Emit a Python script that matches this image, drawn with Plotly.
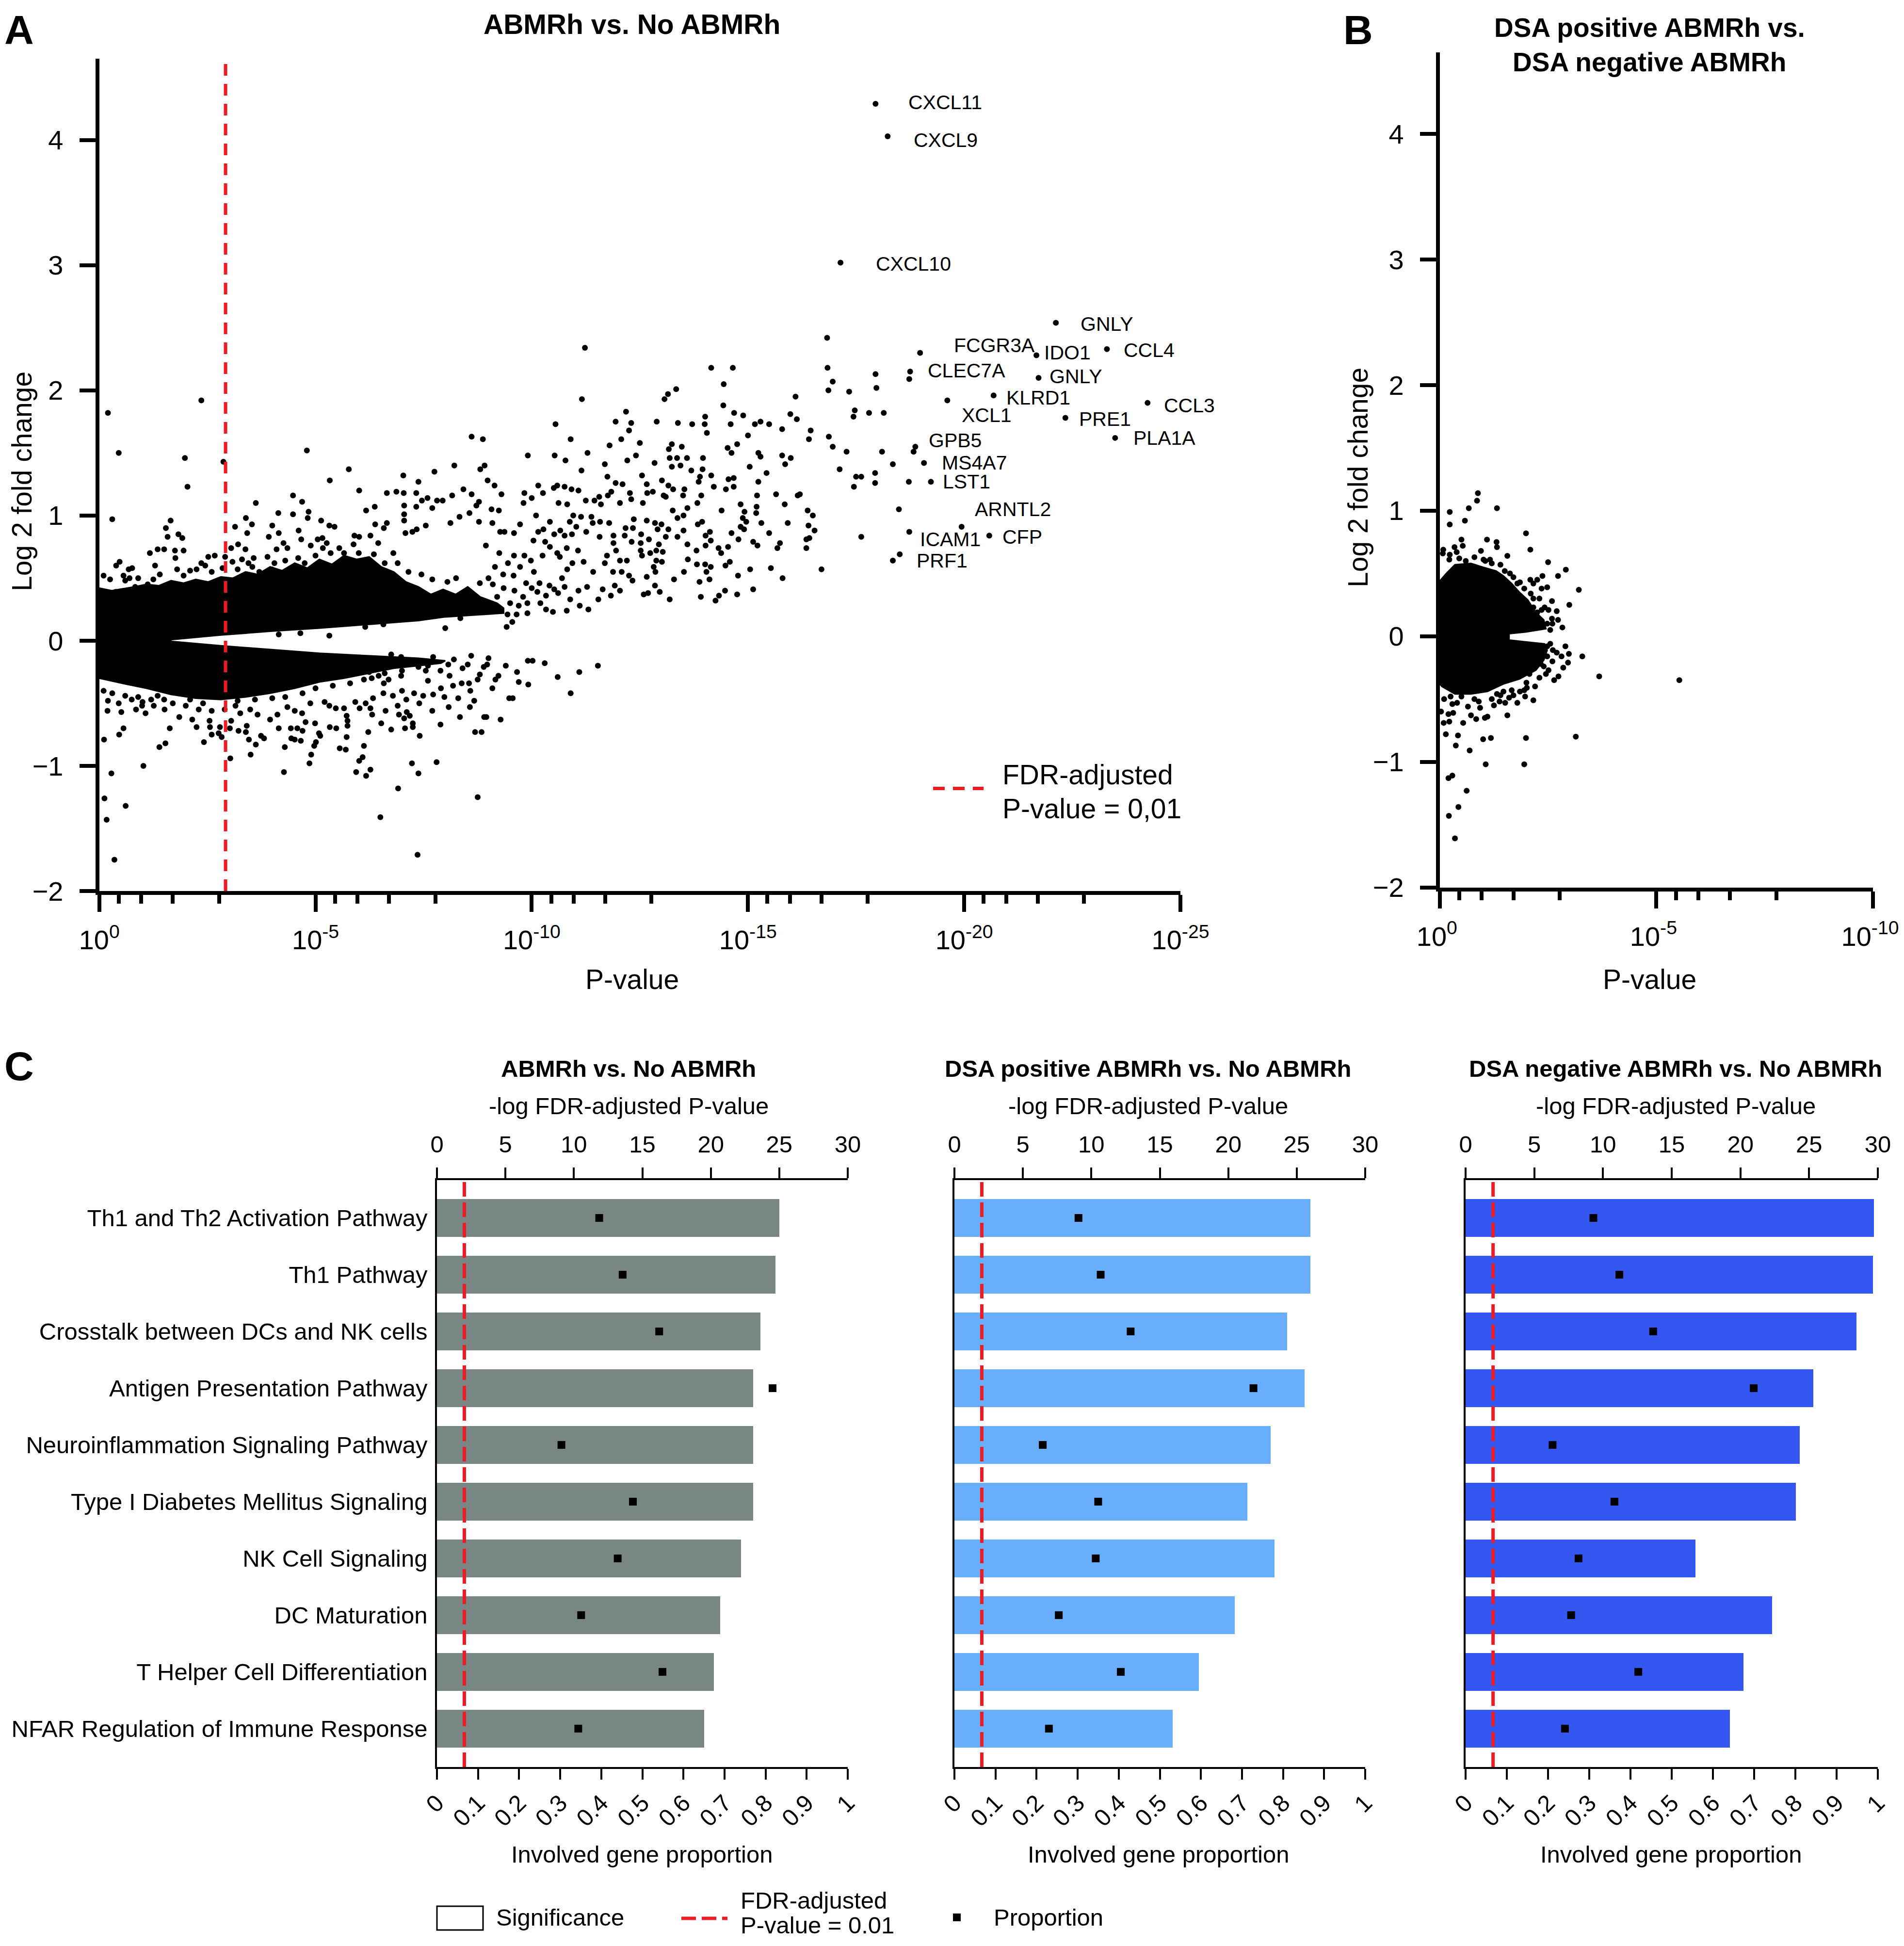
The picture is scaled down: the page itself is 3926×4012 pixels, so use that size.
import plotly.graph_objects as go

# ======================= DATA =======================
# ---- Panel A: ABMRh vs. No ABMRh  (x = -log10 P, y = log2 fold change)
# outline of the densely packed (solid black) part of the cloud
A_core_x = [0, 0.29, 0.80, 1.09, 1.38, 1.66, 1.95, 2.23, 2.52, 2.81, 3.09, 3.38, 3.66, 3.95, 4.23, 4.52, 4.81,
            5.09, 5.38, 5.66, 5.95, 6.24, 6.52, 6.81, 7.09, 7.38, 7.67, 7.95, 8.24, 8.52, 8.81, 9.20, 9.35,
            9.35, 8.9, 8.0, 7.38, 6.24, 5.09, 3.95, 2.81, 1.66,
            1.66, 2.81, 3.95, 5.09, 6.24, 7.38, 8.0,
            7.9, 7.38, 6.81, 6.24, 5.66, 5.09, 4.52, 3.95, 3.38, 2.81, 2.23, 1.66, 1.09, 0.52, 0]
A_core_y = [0.42, 0.40, 0.43, 0.45, 0.44, 0.48, 0.46, 0.49, 0.47, 0.51, 0.50, 0.55, 0.53, 0.59, 0.56, 0.62, 0.58,
            0.65, 0.61, 0.68, 0.65, 0.67, 0.59, 0.55, 0.47, 0.43, 0.37, 0.41, 0.37, 0.43, 0.35, 0.30, 0.26,
            0.22, 0.21, 0.19, 0.16, 0.13, 0.10, 0.075, 0.045, 0.008,
            -0.005, -0.04, -0.07, -0.10, -0.12, -0.14, -0.16,
            -0.18, -0.20, -0.22, -0.26, -0.30, -0.33, -0.38, -0.42, -0.45, -0.47, -0.46, -0.43, -0.38, -0.34, -0.30]

A_points = [
    (0.20,1.82),(0.45,1.50),(0.30,0.97),(2.36,1.92),(1.98,1.46),(2.04,1.23),(2.87,1.43),(4.80,1.52),(5.77,1.37),
    (5.33,1.28),(6.01,1.20),(7.03,1.32),(7.38,1.27),(7.75,1.35),(8.21,1.40),(8.61,1.63),(8.87,1.61),(8.81,1.37),
    (8.42,1.21),(8.61,1.17),(8.78,1.11),(8.72,1.08),(8.56,1.02),(8.78,0.95),(8.33,0.99),(8.12,0.94),(8.16,1.16),
    (7.94,1.12),(7.81,1.12),(7.59,1.14),(7.70,1.06),(7.46,1.12),(7.33,1.18),(7.33,1.07),(7.04,1.18),(6.87,1.19),
    (6.65,1.18),(7.05,1.08),(7.05,1.01),(7.05,0.96),(7.08,0.86),(6.65,0.94),(6.58,0.90),(6.38,0.93),(6.37,1.07),
    (6.17,1.04),(7.55,0.92),(7.34,0.89),(7.24,0.87),(4.48,1.16),(4.69,1.11),(4.84,1.03),(4.82,0.98),(4.48,1.01),
    (4.14,1.02),(5.13,0.96),(3.62,1.10),(3.39,0.98),(3.53,0.93),(3.14,0.91),(4.00,0.92),(4.15,0.86),(4.61,0.88),
    (3.92,0.83),(3.42,0.86),(5.32,0.92),(5.44,0.91),(5.90,0.84),(6.01,0.83),(6.27,0.84),(6.45,0.78),(5.88,0.77),
    (5.66,0.70),(5.16,0.82),(5.05,0.81),(4.67,0.81),(5.26,0.78),(5.17,0.74),(4.89,0.76),(4.35,0.74),(4.26,0.78),
    (4.10,0.73),(3.89,0.67),(3.57,0.66),(3.38,0.73),(3.21,0.77),(3.05,0.74),(3.30,0.65),(2.91,0.67),(2.67,0.68),
    (2.52,0.67),(2.36,0.62),(2.25,0.57),(1.95,0.72),(1.75,0.72),(1.83,0.85),(1.92,0.82),(1.65,0.96),(1.54,0.90),
    (1.58,0.83),(1.50,0.73),(1.35,0.73),(1.17,0.70),(1.76,0.66),(1.29,0.60),(0.47,0.63),(0.39,0.60),(0.68,0.57),
    (0.76,0.58),(0.56,0.52),(0.90,0.50),(0.70,0.50),(0.16,0.37),(0.38,0.39),(0.83,0.43),(1.12,0.45),(1.25,0.49),
    (3.70,0.55),(3.54,0.59),(3.99,0.57),(3.08,0.63),(8.00,0.10),(8.67,0.26),(8.35,0.18),(7.85,0.30),(7.56,0.25),
    (7.07,0.25),(6.57,0.23),(6.11,0.21),(5.89,0.22),(5.32,0.04),(4.65,0.06),(4.15,0.05),(6.57,0.13),(6.15,0.11),
    (6.73,0.17),
    (0.10,0.52),(0.25,0.49),(0.60,0.48),(1.40,0.53),(1.95,0.52),(2.10,0.56),(2.60,0.55),(2.85,0.58),(3.20,0.57),
    (3.45,0.62),(4.30,0.64),(4.60,0.66),(4.75,0.62),(5.00,0.68),(5.35,0.70),(5.55,0.74),(6.00,0.70),(6.35,0.69),
    (6.60,0.62),(6.90,0.62),(7.15,0.55),(7.45,0.53),(7.70,0.49),(8.05,0.47),(8.25,0.50),(8.80,0.46),(6.80,0.70),
    (4.05,0.62),(2.45,0.60),(1.80,0.57),
    (11.23,2.34),(16.83,2.42),(16.84,2.18),(16.96,2.07),(16.86,2.00),(17.34,1.99),(14.15,2.18),(14.65,2.18),
    (14.44,2.05),(13.34,2.01),(13.15,1.97),(13.07,1.93),(11.16,1.93),(16.10,1.95),(14.43,1.88),(12.18,1.83),
    (14.68,1.82),(14.89,1.80),(15.98,1.81),(16.13,1.77),(17.47,1.84),(17.44,1.79),(17.80,1.82),(10.55,1.73),
    (11.94,1.75),(12.30,1.74),(12.25,1.68),(12.89,1.75),(13.38,1.74),(13.71,1.73),(14.01,1.79),(14.00,1.73),
    (14.05,1.66),(14.60,1.73),(15.16,1.73),(15.29,1.75),(15.49,1.73),(15.79,1.69),(15.00,1.64),(16.45,1.68),
    (16.41,1.61),(16.87,1.63),(16.96,1.55),(17.28,1.51),(17.12,1.37),(17.50,1.31),(17.62,1.31),(17.45,1.23),
    (17.62,0.83),(16.70,0.57),(10.90,1.61),(9.91,1.48),(10.53,1.48),(10.78,1.44),(8.91,1.40),(11.29,1.50),
    (11.80,1.56),(12.07,1.61),(12.50,1.58),(12.21,1.44),(12.41,1.48),(11.69,1.41),(11.15,1.36),(12.84,1.42),
    (13.17,1.53),(13.24,1.57),(13.47,1.55),(13.19,1.46),(13.36,1.46),(13.59,1.46),(13.96,1.46),(13.24,1.39),
    (13.44,1.40),(13.69,1.36),(13.95,1.37),(13.89,1.31),(13.86,1.27),(14.15,1.32),(14.53,1.54),(14.62,1.50),
    (14.75,1.57),(15.24,1.50),(15.29,1.47),(15.04,1.39),(15.43,1.34),(15.79,1.48),(15.86,1.41),(15.99,1.46),
    (14.55,1.29),(14.67,1.30),(14.67,1.23),(14.49,1.21),(14.21,1.23),(15.24,1.27),(15.21,1.16),(15.65,1.17),
    (16.15,1.16),(15.85,1.09),(15.20,1.07),(15.19,1.02),(14.83,1.09),(14.92,1.03),(14.88,0.98),(14.96,0.95),
    (14.83,0.91),(14.91,0.89),(15.31,0.94),(15.49,0.86),(15.92,0.94),(16.38,1.04),(16.50,1.00),(16.40,0.92),
    (16.54,0.88),(16.35,0.81),(16.35,0.74),(15.74,0.78),(15.68,0.74),(15.12,0.79),(15.22,0.76),(14.78,0.81),
    (14.62,0.86),(14.39,1.04),(15.05,0.57),(14.77,0.52),(15.53,0.58),(15.80,0.50),(15.12,0.41),(14.75,0.37),
    (14.47,0.40),(14.33,0.36),(14.25,0.32),(13.91,0.35),(14.11,0.49),(13.88,0.47),(14.04,0.55),(14.14,0.59),
    (14.01,0.61),(13.82,0.61),(14.48,0.60),(14.58,0.63),(14.32,0.74),(14.54,0.75),(14.38,0.70),(13.84,0.93),
    (13.94,0.95),(14.12,0.87),(14.02,0.84),(14.14,0.80),(14.02,0.76),(13.81,0.72),(13.60,0.77),(13.61,0.65),
    (13.52,0.55),(13.29,0.49),(13.19,0.33),(12.96,0.39),(12.69,0.38),(12.59,0.37),(12.85,0.44),(12.66,0.51),
    (12.86,0.55),(12.82,0.59),(12.88,0.64),(13.01,0.63),(13.03,0.71),(12.88,0.72),(12.94,0.77),(12.74,0.70),
    (12.55,0.68),(12.52,0.72),(12.52,0.78),(12.31,0.79),(12.53,0.85),(12.71,0.81),(12.91,0.89),(13.10,0.83),
    (13.16,0.89),(13.37,0.83),(13.51,0.88),(13.26,1.04),(13.37,0.98),(13.51,1.00),(13.60,1.06),(13.10,1.15),
    (13.16,1.24),(13.01,1.28),(13.05,1.16),(13.50,1.16),(13.53,1.21),(13.27,1.21),(13.83,1.10),(13.92,1.16),
    (12.67,1.18),(12.80,1.19),(12.66,1.25),(12.55,1.32),(12.57,1.10),(12.66,0.96),(12.85,0.94),(13.00,0.93),
    (12.30,1.13),(12.27,1.18),(12.04,1.10),(12.10,1.25),(11.94,1.26),(11.84,1.19),(11.76,1.16),(11.75,1.31),
    (12.36,0.97),(12.17,0.90),(12.34,0.90),(12.15,0.84),(11.89,0.84),(11.79,0.94),(11.89,0.78),(11.95,0.72),
    (11.74,0.68),(11.57,0.83),(11.41,0.94),(11.58,0.95),(11.26,0.87),(11.14,0.99),(11.38,0.99),(10.96,1.00),
    (10.88,0.95),(11.03,0.91),(11.25,1.12),(11.45,1.12),(11.56,1.15),(11.60,1.09),(11.08,1.20),(10.92,1.21),
    (10.76,1.23),(10.59,1.24),(10.51,1.22),(10.26,1.18),(10.15,1.24),(10.00,1.14),(9.83,1.18),(9.81,1.10),
    (9.30,1.17),(9.14,1.24),(8.98,1.28),(9.07,1.05),(9.24,1.04),(9.09,0.94),(9.27,0.87),(9.37,0.87),(9.59,0.86),
    (9.73,0.93),(10.10,1.00),(10.62,1.10),(10.82,1.09),(10.42,0.95),(10.15,0.87),(10.27,0.89),(10.04,0.80),
    (10.31,0.79),(10.42,0.75),(10.52,0.85),(10.66,0.88),(10.76,0.84),(10.59,0.70),(10.81,0.74),(10.93,0.85),
    (11.07,0.72),(11.20,0.63),(10.94,0.62),(10.82,0.57),(11.42,0.55),(11.69,0.62),(11.88,0.55),(12.08,0.55),
    (12.04,0.64),(12.20,0.64),(12.25,0.52),(12.33,0.48),(12.04,0.40),(11.92,0.44),(11.83,0.36),(11.64,0.41),
    (11.54,0.33),(11.28,0.43),(11.31,0.25),(11.08,0.40),(11.11,0.28),(10.89,0.33),(10.76,0.43),(10.61,0.38),
    (10.52,0.41),(10.41,0.44),(10.33,0.36),(10.81,0.24),(10.49,0.23),(10.33,0.25),(10.18,0.46),(10.13,0.39),
    (9.87,0.46),(9.80,0.35),(9.65,0.21),(9.44,0.21),(9.42,0.11),(9.26,0.26),(9.58,0.52),(9.34,0.53),(9.15,0.59),
    (9.73,0.59),(9.83,0.68),(9.98,0.64),(10.25,0.68),(10.65,0.67),(9.59,0.68),(8.94,0.76),
    (9.10,0.45),(9.20,0.35),(9.35,0.42),(9.50,0.30),(9.60,0.40),(9.70,0.28),(9.90,0.30),(10.00,0.42),(10.05,0.55),
    (9.45,0.62),(9.00,0.50),(9.25,0.70),(9.90,0.22),(10.20,0.30),(10.70,0.50),(9.55,0.15),
    (17.95,2.13),(17.97,2.02),(18.14,1.82),(18.10,1.51),(18.35,1.41),(17.94,1.34),(17.94,1.26),(18.72,1.27),
    (16.20,1.17),(18.49,1.05),(16.42,0.82),(18.73,2.09),(18.83,1.51),(18.35,0.64),
    (0.11,-0.79),(0.46,-0.75),(0.56,-0.70),(0.19,-0.56),(0.51,-0.57),(0.85,-0.55),(1.07,-0.58),(0.99,-0.52),
    (0.75,-0.47),(1.26,-0.52),(1.51,-0.55),(1.39,-0.85),(1.53,-0.82),(1.63,-0.70),(1.85,-0.61),(2.15,-0.63),
    (2.25,-0.69),(2.42,-0.81),(2.55,-0.64),(2.56,-0.69),(2.60,-0.75),(2.79,-0.69),(2.76,-0.74),(2.83,-0.77),
    (3.03,-0.94),(3.05,-0.64),(3.02,-0.70),(3.22,-0.72),(3.39,-0.73),(3.46,-0.79),(3.62,-0.83),(3.50,-0.91),
    (3.74,-0.76),(3.81,-0.78),(3.41,-0.68),(4.15,-0.70),(4.29,-0.85),(4.27,-1.05),(4.44,-0.78),(4.52,-0.79),
    (4.66,-0.80),(4.43,-0.70),(4.58,-0.70),(4.70,-0.72),(4.77,-0.65),(4.99,-0.66),(5.08,-0.74),(5.11,-0.76),
    (5.01,-0.81),(4.97,-0.84),(4.90,-0.91),(4.86,-0.98),(5.33,-0.69),(5.48,-0.70),(5.56,-0.86),(5.70,-0.87),
    (5.72,-0.77),(5.74,-0.68),(5.74,-0.64),(5.72,-0.60),(6.12,-0.84),(6.09,-0.93),(6.01,-0.96),(5.94,-1.05),
    (6.17,-1.08),(6.27,-1.03),(6.22,-0.73),(6.31,-0.59),(6.27,-0.54),(6.52,-0.66),(6.62,-0.56),(6.50,-1.41),
    (6.75,-0.71),(6.91,-1.18),(6.93,-0.59),(7.07,-0.70),(7.05,-0.62),(7.11,-0.57),(7.18,-0.60),(7.25,-0.66),
    (7.25,-0.69),(7.41,-0.76),(7.23,-0.98),(7.38,-1.06),(7.36,-1.71),(7.80,-0.97),(7.89,-0.67),(7.70,-0.56),
    (8.08,-0.53),(8.34,-0.61),(8.57,-0.53),(8.67,-0.48),(8.69,-0.73),(8.75,-1.25),(8.90,-0.61),(7.72,-0.43),
    (7.49,-0.44),(7.28,-0.42),(7.00,-0.40),(6.79,-0.44),(6.57,-0.42),(6.33,-0.46),(6.16,-0.50),(6.02,-0.54),
    (5.92,-0.49),(5.66,-0.54),(5.47,-0.54),(5.32,-0.52),(5.21,-0.49),(4.88,-0.50),(4.69,-0.58),(4.52,-0.56),
    (4.35,-0.53),(4.12,-0.59),(3.95,-0.63),(3.66,-0.59),(3.49,-0.55),(3.26,-0.58),(3.15,-0.52),(7.98,-0.45),
    (8.18,-0.36),(8.38,-0.34),(8.55,-0.34),(8.75,-0.31),(8.07,-0.19),(7.89,-0.24),(7.72,-0.13),(7.55,-0.24),
    (7.38,-0.21),(7.15,-0.18),(6.98,-0.13),(6.75,-0.11),(6.98,-0.28),(6.69,-0.31),(6.58,-0.34),(6.46,-0.28),
    (8.52,-0.19),(8.58,-0.40),(8.89,-0.21),(6.24,-0.25),(6.12,-0.31),
    (9.91,-0.16),(10.02,-0.16),(9.92,-0.35),(10.90,-0.42),(11.10,-0.25),(11.53,-0.20),(9.66,-0.25),(9.28,-0.63),
    (9.48,-0.46),(9.56,-0.46),(9.16,-0.31),(9.09,-0.38),(8.95,-0.61),(8.84,-0.73),(8.97,-0.19),(9.23,-0.28),
    (0.12,-1.26),(0.17,-1.43),(0.61,-1.32),(0.35,-1.75),(1.02,-1.00),(0.28,-1.06),
    (0.10,-0.40),(0.30,-0.42),(0.60,-0.44),(0.90,-0.45),(1.20,-0.47),(1.50,-0.47),(0.20,-0.48),(0.45,-0.50),
    (1.00,-0.49),(1.70,-0.50),(2.00,-0.52),(2.30,-0.55),(2.60,-0.56),(2.90,-0.55),(2.40,-0.50),(1.35,-0.44),
    (2.10,-0.47),
    (8.20,-0.15),(8.40,-0.22),(8.60,-0.12),(8.80,-0.27),(9.00,-0.14),(9.40,-0.20),(9.70,-0.33),(10.30,-0.18),
    (10.60,-0.29),(7.60,-0.32),(7.90,-0.38),(8.10,-0.28),(8.30,-0.46),(7.40,-0.50),(7.10,-0.47),(6.90,-0.52),
    (3.20,-0.48),(3.60,-0.47),(4.00,-0.46),(4.30,-0.45),(4.70,-0.42),(5.00,-0.38),(5.40,-0.36),(5.80,-0.34),
    (6.30,-0.30),(6.60,-0.26),(7.00,-0.24),(7.60,-0.20),
]

# labelled genes: name, x, y
A_gene_names = ["CXCL11", "CXCL9", "CXCL10", "GNLY", "FCGR3A", "IDO1", "CCL4", "CLEC7A", "GNLY", "KLRD1",
                "XCL1", "CCL3", "PRE1", "PLA1A", "GPB5", "MS4A7", "LST1", "ARNTL2", "ICAM1", "CFP", "PRF1"]
A_gene_x = [17.95, 18.23, 17.14, 22.12, 18.98, 21.67, 23.30, 18.75, 21.72, 20.68,
            19.61, 24.24, 22.34, 23.49, 18.87, 19.07, 19.23, 19.94, 18.73, 20.58, 18.51]
A_gene_y = [4.29, 4.03, 3.02, 2.54, 2.30, 2.28, 2.33, 2.15, 2.10, 1.96,
            1.92, 1.90, 1.78, 1.62, 1.55, 1.42, 1.27, 0.91, 0.87, 0.84, 0.69]

# ---- Panel B: DSA positive vs DSA negative ABMRh
B_core_x = [0, 0.15, 0.35, 0.72, 1.0, 1.3, 1.47, 1.66, 1.84, 2.03, 2.22, 2.40, 2.45, 2.0, 1.6,
            1.6, 2.0, 2.42, 2.48, 2.40, 2.22, 1.84, 1.47, 1.10, 0.72, 0.35, 0.05, 0]
B_core_y = [0.44, 0.50, 0.57, 0.58, 0.55, 0.52, 0.48, 0.42, 0.35, 0.29, 0.19, 0.13, 0.06, 0.035, 0.02,
            -0.03, -0.045, -0.06, -0.11, -0.19, -0.27, -0.34, -0.38, -0.44, -0.46, -0.46, -0.40, -0.38]
B_points = [
    (0.88,1.14),(0.86,1.08),(0.23,0.99),(0.67,1.02),(1.32,1.02),(0.23,0.89),(0.58,0.92),(1.99,0.82),(0.50,0.77),
    (1.09,0.77),(1.31,0.75),(1.32,0.71),(0.53,0.72),(2.09,0.69),(0.08,0.69),(0.34,0.71),(0.39,0.67),(0.07,0.66),
    (0.23,0.65),(0.22,0.61),(0.95,0.68),(1.56,0.64),(1.01,0.61),(1.16,0.61),(2.50,0.59),(2.91,0.53),(2.73,0.48),
    (2.37,0.48),(2.09,0.45),(2.25,0.45),(2.16,0.42),(3.21,0.37),(2.48,0.39),(2.35,0.38),(1.79,0.42),(1.62,0.50),
    (1.40,0.57),(2.59,0.28),(2.99,0.25),(2.16,0.30),(2.42,0.23),(2.51,0.21),(2.59,0.14),(2.73,0.13),(2.83,0.07),
    (2.16,0.23),(2.25,0.19),(2.48,0.10),(2.33,-0.09),(2.48,-0.08),(2.61,-0.11),(2.81,-0.16),(2.98,-0.14),
    (3.29,-0.16),(2.96,-0.21),(2.48,-0.16),(2.40,-0.24),(2.51,-0.27),(2.33,-0.22),(2.74,-0.32),(2.64,-0.35),
    (3.68,-0.32),(2.14,-0.11),(2.22,-0.21),(2.07,-0.30),(2.01,-0.41),(2.16,-0.51),(1.97,-0.48),(1.85,-0.44),
    (1.79,-0.53),(1.66,-0.43),(1.51,-0.53),(1.56,-0.63),(1.38,-0.52),(1.25,-0.55),(1.10,-0.64),(1.04,-0.65),
    (0.84,-0.66),(0.93,-0.57),(0.72,-0.63),(0.69,-0.91),(0.54,-0.69),(0.42,-0.79),(0.37,-0.87),(0.14,-0.78),
    (0.22,-0.68),(0.09,-0.69),(0.31,-0.61),(0.03,-0.60),(0.20,-0.62),(1.00,-0.82),(1.18,-0.81),(1.99,-0.81),
    (3.14,-0.80),(1.06,-1.02),(1.95,-1.02),(0.20,-1.13),(0.29,-1.11),(0.62,-1.23),(0.43,-1.36),(0.21,-1.43),
    (0.35,-1.61),(0.50,-0.48),(0.65,-0.56),(0.29,-0.54),(1.32,-0.46),(1.47,-0.44),(5.53,-0.35),
    (0.45,0.62),(0.80,0.63),(1.20,0.58),(1.70,0.47),(1.95,0.38),(2.30,0.30),(2.60,0.10),(2.70,0.20),(2.60,-0.20),
    (2.30,-0.33),(2.00,-0.37),(1.70,-0.47),(1.20,-0.50),(0.90,-0.52),(0.40,-0.53),(0.10,-0.50),(2.85,-0.25),
    (0.60,0.60),(1.05,0.60),(1.50,0.52),(1.85,0.43),(2.10,0.34),(2.35,0.21),(2.55,0.05),(2.55,-0.06),(2.45,-0.30),
    (2.20,-0.40),(1.95,-0.43),(1.60,-0.49),(1.40,-0.47),(0.80,-0.50),(0.25,-0.48),(2.70,-0.13),(2.90,-0.08),
]

# ---- Panel C: pathway enrichment
C_pathways = ["Th1 and Th2 Activation Pathway", "Th1 Pathway", "Crosstalk between DCs and NK cells",
              "Antigen Presentation Pathway", "Neuroinflammation Signaling Pathway",
              "Type I Diabetes Mellitus Signaling", "NK Cell Signaling", "DC Maturation",
              "T Helper Cell Differentiation", "NFAR Regulation of Immune Response"]
C_titles = ["ABMRh vs. No ABMRh", "DSA positive ABMRh vs. No ABMRh", "DSA negative ABMRh vs. No ABMRh"]
C_sig = [
    [24.99, 24.74, 23.64, 23.11, 23.11, 23.11, 22.21, 20.67, 20.22, 19.52],
    [26.01, 26.01, 24.29, 25.56, 23.11, 21.39, 23.38, 20.48, 17.86, 15.95],
    [29.73, 29.64, 28.46, 25.30, 24.31, 24.04, 16.72, 22.32, 20.24, 19.25],
]
C_prop = [
    [0.395, 0.452, 0.541, 0.817, 0.303, 0.477, 0.440, 0.351, 0.549, 0.344],
    [0.302, 0.356, 0.429, 0.728, 0.215, 0.350, 0.344, 0.254, 0.405, 0.230],
    [0.310, 0.373, 0.455, 0.699, 0.211, 0.361, 0.274, 0.256, 0.419, 0.241],
]
FDR_THRESHOLD_C = 2.0      # -log10(0.01)
FDR_THRESHOLD_A = 2.92     # P-value position of the FDR 0.01 cut-off in panel A

A_xticks = [0, 5, 10, 15, 20, 25]
A_xticktext = ["10<sup>0</sup>", "10<sup>-5</sup>", "10<sup>-10</sup>", "10<sup>-15</sup>",
               "10<sup>-20</sup>", "10<sup>-25</sup>"]
B_xticks = [0, 5, 10]
B_xticktext = ["10<sup>0</sup>", "10<sup>-5</sup>", "10<sup>-10</sup>"]
Y_ticks = [-2, -1, 0, 1, 2, 3, 4]
C_top_ticks = [0, 5, 10, 15, 20, 25, 30]
C_bot_ticks = [0, 0.1, 0.2, 0.3, 0.4, 0.5, 0.6, 0.7, 0.8, 0.9, 1]
C_bot_text = ["0", "0.1", "0.2", "0.3", "0.4", "0.5", "0.6", "0.7", "0.8", "0.9", "1"]

# ======================= STYLE / LAYOUT =======================
PAGE_W, PAGE_H = 3926, 4012
OFF = 8                      # default body margin of the html page
W, H = PAGE_W - 2 * OFF, PAGE_H - 2 * OFF
FONT = "Liberation Sans, Arial, Helvetica, sans-serif"
RED = "#EC1C24"
C_COLORS = ["#798784", "#68AEFA", "#3456F1"]
MINOR_A = [0.45, 0.97, 1.70, 2.77, 5.45, 5.97, 6.70, 7.77, 10.45, 10.97, 11.70, 12.77,
           15.45, 15.97, 16.70, 17.77, 20.45, 20.97, 21.70, 22.77]
MINOR_B = [0.45, 0.97, 1.70, 2.77, 5.45, 5.97, 6.70, 7.77]


def px(x):
    return (x - OFF) / W


def py(y):
    return 1 - (y - OFF) / H


fig = go.Figure()

# ---- Panel A traces
fig.add_trace(go.Scatter(x=A_core_x, y=A_core_y, fill="toself", fillcolor="black", mode="lines",
                         line=dict(color="black", width=3), xaxis="x", yaxis="y", hoverinfo="skip"))
fig.add_trace(go.Scatter(x=[p[0] for p in A_points], y=[p[1] for p in A_points], mode="markers",
                         marker=dict(color="black", size=12), xaxis="x", yaxis="y"))
fig.add_trace(go.Scatter(x=A_gene_x, y=A_gene_y, mode="markers", text=A_gene_names,
                         marker=dict(color="black", size=12), xaxis="x", yaxis="y"))

# ---- Panel B traces
fig.add_trace(go.Scatter(x=B_core_x, y=B_core_y, fill="toself", fillcolor="black", mode="lines",
                         line=dict(color="black", width=3), xaxis="x2", yaxis="y2", hoverinfo="skip"))
fig.add_trace(go.Scatter(x=[p[0] for p in B_points], y=[p[1] for p in B_points], mode="markers",
                         marker=dict(color="black", size=12), xaxis="x2", yaxis="y2"))

# ---- Panel C traces
C_x_dom = [(901, 1748), (1968, 2815), (3022, 3872)]
C_y_top, C_y_bot = 2433, 3643
for i in range(3):
    xa_top = "x%d" % (3 + 2 * i)
    xa_bot = "x%d" % (4 + 2 * i)
    ya = "y%d" % (3 + i)
    fig.add_trace(go.Bar(x=C_sig[i], y=C_pathways, orientation="h", width=0.667,
                         marker=dict(color=C_COLORS[i], line=dict(width=0)),
                         xaxis=xa_top, yaxis=ya))
    fig.add_trace(go.Scatter(x=C_prop[i], y=C_pathways, mode="markers",
                             marker=dict(symbol="square", color="black", size=16),
                             xaxis=xa_bot, yaxis=ya))

layout = dict(
    width=W, height=H, autosize=False, showlegend=False,
    margin=dict(l=0, r=0, t=0, b=0, pad=0),
    paper_bgcolor="white", plot_bgcolor="rgba(0,0,0,0)",
    font=dict(family=FONT, color="black", size=49),
    bargap=0,
)

axis_common_A = dict(showgrid=False, zeroline=False, showline=True, linecolor="black", linewidth=8,
                     ticks="outside", tickcolor="black", tickwidth=8, automargin=False,
                     ticklabeloverflow="allow", tickfont=dict(size=56, family=FONT))

layout["xaxis"] = dict(axis_common_A, domain=[px(204.7), px(2434)], range=[0, 25], anchor="y",
                       tickvals=A_xticks, ticktext=A_xticktext, ticklen=35, ticklabelstandoff=10,
                       minor=dict(tickmode="array", tickvals=MINOR_A, ticks="outside", ticklen=18,
                                  tickwidth=8, tickcolor="black"))
layout["yaxis"] = dict(axis_common_A, domain=[py(1837), py(121)], range=[-2, 4.65], anchor="x",
                       tickvals=Y_ticks, ticklen=33, ticklabelstandoff=22)
layout["xaxis2"] = dict(axis_common_A, domain=[px(2968.8), px(3862)], range=[0, 10], anchor="y2",
                        tickvals=B_xticks, ticktext=B_xticktext, ticklen=35, ticklabelstandoff=10,
                        ticklabelshift=-6,
                        minor=dict(tickmode="array", tickvals=MINOR_B, ticks="outside", ticklen=18,
                                   tickwidth=8, tickcolor="black"))
layout["yaxis2"] = dict(axis_common_A, domain=[py(1829.5), py(108)], range=[-2, 4.65], anchor="x2",
                        tickvals=Y_ticks, ticklen=33, ticklabelstandoff=22)

for i in range(3):
    n_top, n_bot, n_y = 3 + 2 * i, 4 + 2 * i, 3 + i
    x0, x1 = C_x_dom[i]
    layout["xaxis%d" % n_top] = dict(domain=[px(x0), px(x1)], range=[0, 30], anchor="y%d" % n_y,
                                     side="top", showgrid=False, zeroline=False, showline=True,
                                     linecolor="black", linewidth=3.5, ticks="outside", ticklen=22,
                                     tickwidth=3.5, tickcolor="black", tickvals=C_top_ticks,
                                     tickfont=dict(size=49), ticklabelstandoff=12, automargin=False,
                                     ticklabeloverflow="allow")
    layout["xaxis%d" % n_bot] = dict(overlaying="x%d" % n_top, range=[0, 1], anchor="y%d" % n_y,
                                     side="bottom", showgrid=False, zeroline=False, showline=True,
                                     linecolor="black", linewidth=3.5, ticks="outside", ticklen=22,
                                     tickwidth=3.5, tickcolor="black", tickvals=C_bot_ticks,
                                     ticktext=C_bot_text, tickangle=-45, tickfont=dict(size=49),
                                     automargin=False, ticklabeloverflow="allow")
    layout["yaxis%d" % n_y] = dict(domain=[py(C_y_bot), py(C_y_top)], anchor="x%d" % n_top,
                                   type="category", categoryorder="array", categoryarray=C_pathways,
                                   range=[9.677, -0.667], showgrid=False, zeroline=False,
                                   showline=True, linecolor="black", linewidth=3.5, ticks="",
                                   showticklabels=(i == 0), tickfont=dict(size=49),
                                   ticklabelstandoff=6, automargin=False)

fig.update_layout(**layout)

# ---- shapes
shapes = []
shapes.append(dict(type="line", xref="x", yref="y", x0=FDR_THRESHOLD_A, x1=FDR_THRESHOLD_A, y0=-2, y1=4.65,
                   line=dict(color=RED, width=7, dash="24px,17px")))
shapes.append(dict(type="line", xref="x", yref="y", x0=19.28, x1=20.45, y0=-1.18, y1=-1.18,
                   line=dict(color=RED, width=7, dash="24px,17px")))
for i in range(3):
    shapes.append(dict(type="line", xref="x%d" % (3 + 2 * i), yref="y%d domain" % (3 + i),
                       x0=FDR_THRESHOLD_C, x1=FDR_THRESHOLD_C, y0=0, y1=1,
                       line=dict(color=RED, width=7, dash="30px,12px")))
# bottom legend
shapes.append(dict(type="rect", xref="paper", yref="paper", x0=px(901), x1=px(996), y0=py(3979), y1=py(3930),
                   line=dict(color="black", width=3), fillcolor="white"))
shapes.append(dict(type="line", xref="paper", yref="paper", x0=px(1405), x1=px(1500), y0=py(3955), y1=py(3955),
                   line=dict(color=RED, width=7, dash="30px,12px")))
shapes.append(dict(type="rect", xref="paper", yref="paper", x0=px(1965), x1=px(1981), y0=py(3961), y1=py(3945),
                   line=dict(width=0), fillcolor="black"))
fig.update_layout(shapes=shapes)

# ---- annotations
anns = []


def ann(text, x, y, size, xanchor="center", yanchor="middle", angle=0):
    anns.append(dict(xref="paper", yref="paper", x=px(x), y=py(y), text=text, showarrow=False,
                     font=dict(size=size, family=FONT, color="black"), xanchor=xanchor,
                     yanchor=yanchor, textangle=angle))


ann("<b>A</b>", 40, 62, 84)
ann("<b>ABMRh vs. No ABMRh</b>", 1303, 50, 57)
ann("Log 2 fold change", 45, 993, 57, angle=-90)
ann("P-value", 1303, 2019, 57)
ann("<b>B</b>", 2800, 62, 84)
ann("<b>DSA positive ABMRh vs.</b>", 3401, 57, 55)
ann("<b>DSA negative ABMRh</b>", 3401, 128, 55)
ann("Log 2 fold change", 2800, 985, 57, angle=-90)
ann("P-value", 3401, 2019, 57)
ann("<b>C</b>", 40, 2198, 84)
C_title_x = [1296, 2367, 3455]
C_xlabel_x = [1323, 2388, 3445]
for i in range(3):
    ann("<b>%s</b>" % C_titles[i], C_title_x[i], 2203, 49)
    ann("-log FDR-adjusted P-value", C_title_x[i], 2280, 49)
    ann("Involved gene proportion", C_xlabel_x[i], 3823, 49)
ann("Significance", 1021, 3953, 49, xanchor="left")
ann("FDR-adjusted", 1525, 3918, 49, xanchor="left")
ann("P-value = 0.01", 1525, 3969, 49, xanchor="left")
ann("Proportion", 2047, 3953, 49, xanchor="left")

# gene labels (anchor points of the texts, data coordinates)
LABEL_POS = [(18.69, 4.30), (18.81, 4.00), (17.94, 3.01), (22.67, 2.53), (19.74, 2.36), (21.83, 2.30),
             (23.67, 2.32), (19.13, 2.16), (21.95, 2.11), (20.95, 1.94), (19.92, 1.80), (24.60, 1.88),
             (22.63, 1.77), (23.89, 1.62), (19.16, 1.60), (19.46, 1.42), (19.48, 1.27), (20.22, 1.05),
             (18.96, 0.81), (20.86, 0.83), (18.88, 0.64)]
for name, (lx, ly) in zip(A_gene_names, LABEL_POS):
    anns.append(dict(xref="x", yref="y", x=lx, y=ly, text=name, showarrow=False, xanchor="left",
                     yanchor="middle", font=dict(size=41, family=FONT, color="black")))
# panel A legend text
anns.append(dict(xref="x", yref="y", x=20.86, y=-1.07, text="FDR-adjusted", showarrow=False, xanchor="left",
                 yanchor="middle", font=dict(size=57, family=FONT, color="black")))
anns.append(dict(xref="x", yref="y", x=20.86, y=-1.34, text="P-value = 0,01", showarrow=False, xanchor="left",
                 yanchor="middle", font=dict(size=57, family=FONT, color="black")))

fig.update_layout(annotations=anns)

fig.write_html("out.html")
